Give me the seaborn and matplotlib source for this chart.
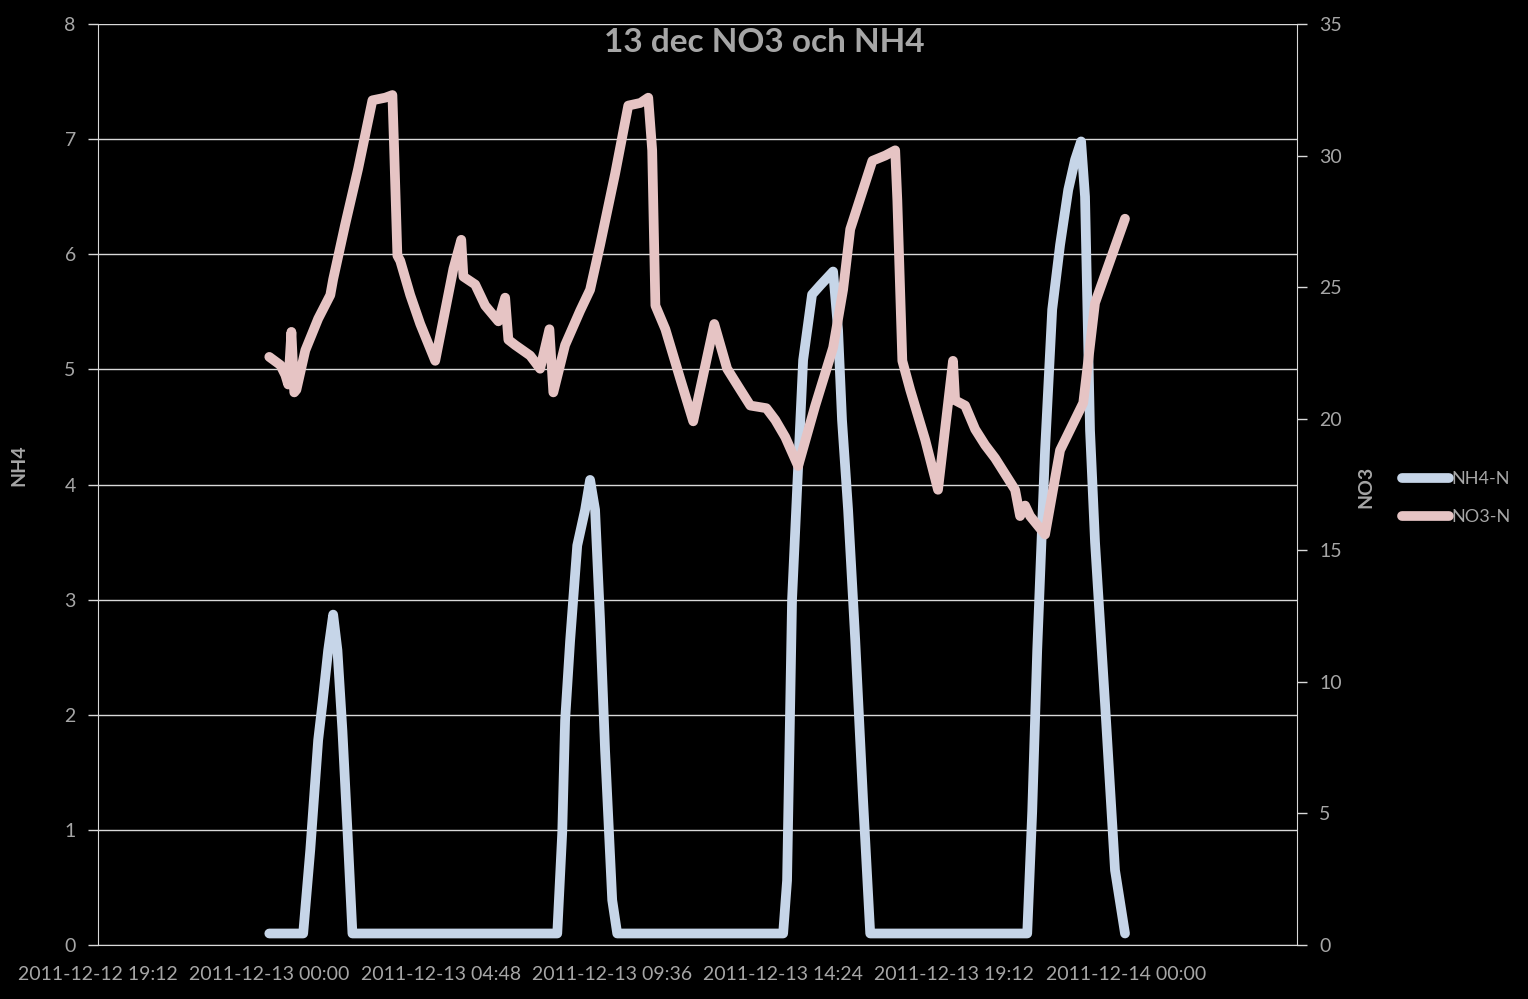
import matplotlib
matplotlib.use("Agg")
import matplotlib.pyplot as plt
import matplotlib.dates as mdates
import seaborn as sns
import pandas as pd

# ---- data (hours after 2011-12-13 00:00) ----
nh4_hours = [0.00, 0.95, 1.15, 1.37, 1.49, 1.65, 1.79, 1.91, 2.05, 2.19, 2.33,
             8.07, 8.21, 8.29, 8.43, 8.63, 8.85, 8.99, 9.13, 9.27, 9.41, 9.61, 9.75,
             14.40, 14.51, 14.65, 14.79, 14.96, 15.21, 15.44, 15.80, 15.94, 16.05, 16.22, 16.42, 16.64, 16.84,
             21.24, 21.38, 21.52, 21.74, 21.94, 22.16, 22.39, 22.58, 22.75, 22.86, 23.00, 23.14, 23.42, 23.70, 23.98]
nh4_values = [0.10, 0.10, 0.83, 1.78, 2.10, 2.56, 2.87, 2.56, 1.86, 1.00, 0.10,
              0.10, 0.98, 1.95, 2.64, 3.47, 3.78, 4.04, 3.78, 2.82, 1.69, 0.39, 0.10,
              0.10, 0.56, 3.00, 3.95, 5.08, 5.65, 5.73, 5.85, 5.34, 4.56, 3.78, 2.65, 1.26, 0.10,
              0.10, 1.16, 2.56, 4.30, 5.52, 6.08, 6.56, 6.82, 6.98, 6.50, 4.47, 3.50, 2.10, 0.65, 0.10]

no3_hours = [0.00, 0.31, 0.45, 0.53, 0.62, 0.70, 0.76, 1.01, 1.37, 1.71, 1.79, 2.13, 2.49, 2.89, 3.25, 3.45,
             3.50, 3.59, 3.67, 3.95, 4.23, 4.65, 5.16, 5.38, 5.44, 5.77, 6.05, 6.42, 6.61, 6.70, 6.89,
             7.31, 7.59, 7.85, 7.96, 8.29, 8.71, 8.99, 9.27, 9.69, 10.06, 10.40, 10.62, 10.73, 10.82,
             11.10, 11.52, 11.88, 12.47, 12.83, 13.20, 13.48, 13.93, 14.18, 14.46, 14.82, 15.30, 15.80,
             16.08, 16.28, 16.90, 17.26, 17.54, 17.60, 17.74, 17.96, 18.38, 18.74, 19.16, 19.22, 19.50,
             19.78, 20.06, 20.34, 20.62, 20.90, 21.04, 21.18, 21.32, 21.74, 22.16, 22.81, 23.14, 23.98]
no3_values = [22.35, 22.04, 21.66, 21.3, 23.3, 21.0, 21.1, 22.6, 23.8, 24.7, 25.3, 27.4, 29.5, 32.1, 32.2, 32.3,
              30.2, 26.2, 26.0, 24.7, 23.6, 22.2, 25.7, 26.8, 25.4, 25.1, 24.3, 23.7, 24.6, 23.0, 22.8,
              22.4, 21.9, 23.4, 21.0, 22.8, 24.1, 24.9, 26.6, 29.3, 31.9, 32.0, 32.2, 30.2, 24.3,
              23.4, 21.5, 19.9, 23.6, 21.9, 21.1, 20.5, 20.4, 19.95, 19.3, 18.2, 20.5, 22.7,
              24.9, 27.2, 29.8, 30.0, 30.2, 28.3, 22.2, 21.1, 19.2, 17.3, 22.2, 20.7, 20.5,
              19.6, 19.0, 18.5, 17.9, 17.3, 16.3, 16.7, 16.3, 15.6, 18.8, 20.6, 24.4, 27.6]

title = "13 dec NO3 och NH4"
series_names = ["NH4-N", "NO3-N"]
base = pd.Timestamp("2011-12-13 00:00")

nh4_df = pd.DataFrame({"time": base + pd.to_timedelta(nh4_hours, unit="h"), "value": nh4_values})
no3_df = pd.DataFrame({"time": base + pd.to_timedelta(no3_hours, unit="h"), "value": no3_values})

# ---- style ----
sns.set_style("dark", {"axes.facecolor": "black", "figure.facecolor": "black"})
plt.rcParams["font.family"] = ["Lato", "DejaVu Sans"]
txt = "#A6A6A6"
axis_col = "#D9D9D9"
c_nh4 = "#C6D5E8"
c_no3 = "#E6C4C4"

fig = plt.figure(figsize=(15.28, 9.99), dpi=100, facecolor="black")
ax = fig.add_axes([98/1528, 1-945/999, (1297-98)/1528, (945-24)/999])
ax.set_facecolor("black")
ax2 = ax.twinx()

sns.lineplot(data=nh4_df, x="time", y="value", ax=ax, color=c_nh4, lw=7,
             solid_capstyle="round", solid_joinstyle="round", label=series_names[0], legend=False)
sns.lineplot(data=no3_df, x="time", y="value", ax=ax2, color=c_no3, lw=7,
             solid_capstyle="round", solid_joinstyle="round", label=series_names[1], legend=False)

xmin = pd.Timestamp("2011-12-12 19:12")
xmax = pd.Timestamp("2011-12-14 04:48")
ax.set_xlim(xmin, xmax)
ticks = [xmin + pd.Timedelta(minutes=288 * i) for i in range(7)]
ax.set_xticks(ticks)
ax.set_xticklabels([t.strftime("%Y-%m-%d %H:%M") for t in ticks])

ax.set_ylim(0, 8)
ax.set_yticks(range(0, 9))
ax2.set_ylim(0, 35)
ax2.set_yticks(range(0, 36, 5))

ax.grid(axis="y", color=axis_col, lw=1)
ax.grid(axis="x", visible=False)
ax2.grid(False)

for a in (ax, ax2):
    for s in a.spines.values():
        s.set_visible(False)
    a.tick_params(colors=txt, labelsize=14, length=7, width=1, direction="out")
    a.tick_params(axis="both", color=axis_col)
ax.spines["left"].set_visible(True)
ax.spines["left"].set_color(axis_col)
ax.spines["bottom"].set_visible(True)
ax.spines["bottom"].set_color(axis_col)
ax2.spines["right"].set_visible(True)
ax2.spines["right"].set_color(axis_col)
ax.tick_params(axis="x", pad=8, labelsize=14)
ax.tick_params(axis="y", pad=9)
ax2.tick_params(axis="y", pad=9)

ax.set_xlabel("")
ax.set_ylabel("NH4", color=txt, fontsize=14, fontweight="bold")
ax.yaxis.set_label_coords((27 - 98) / 1199, (945 - 465) / 921)
ax2.set_ylabel("NO3", color=txt, fontsize=14, fontweight="bold", rotation=90)
ax2.yaxis.set_label_coords((1357 - 98) / 1199, (945 - 487) / 921)

fig.suptitle(title, color=txt, fontsize=24, fontweight="bold", x=0.5, y=1 - 42/999, va="center")

h1, l1 = ax.get_legend_handles_labels()
h2, l2 = ax2.get_legend_handles_labels()
leg = fig.legend(h1 + h2, l1 + l2, loc="center left", bbox_to_anchor=(1386/1528, 1-498/999),
                 frameon=False, fontsize=13, labelcolor=txt, handlelength=2.6,
                 handletextpad=0.1, labelspacing=1.2)

fig.savefig("out.png", dpi=100, facecolor="black")
